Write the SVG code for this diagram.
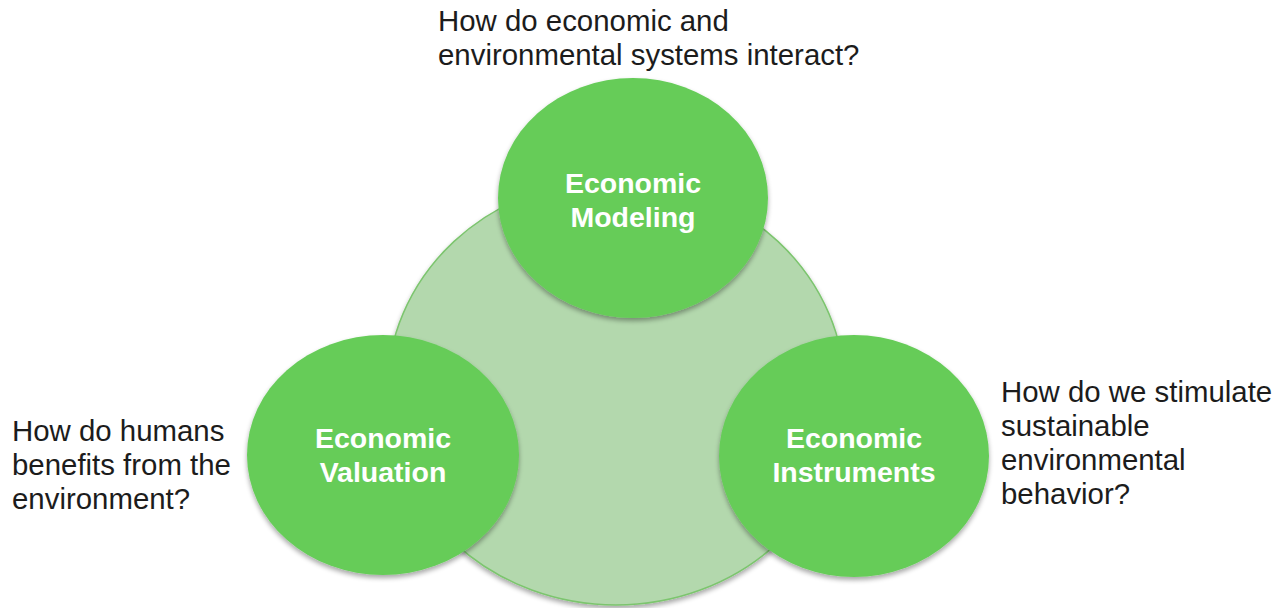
<svg xmlns="http://www.w3.org/2000/svg" width="1274" height="608" viewBox="0 0 1274 608">
  <style>
    .question { font-family: "Liberation Sans", Arial, sans-serif; font-size: 29.4px; fill: #1c1c1c; }
    .label { font-family: "Liberation Sans", Arial, sans-serif; font-size: 28.5px; font-weight: bold; fill: #ffffff; text-anchor: middle; }
    .topic { fill: #66cc59; filter: url(#shadow); }
    .core { fill: #b3d8ad; stroke: #7cc56e; stroke-width: 1.5; filter: url(#shadow); }
  </style>
  <defs>
    <filter id="shadow" x="-10%" y="-10%" width="120%" height="125%">
      <feGaussianBlur in="SourceAlpha" stdDeviation="2.5"/>
      <feOffset dx="0" dy="3" result="blur"/>
      <feComponentTransfer><feFuncA type="linear" slope="0.35"/></feComponentTransfer>
      <feMerge><feMergeNode/><feMergeNode in="SourceGraphic"/></feMerge>
    </filter>
  </defs>
  <rect width="1274" height="608" fill="#ffffff"/>

  <!-- shared background disc -->
  <g id="core">
    <ellipse class="core" cx="616" cy="392" rx="229" ry="213"/>
  </g>

  <g id="economic-modeling">
    <ellipse class="topic" cx="633" cy="198" rx="135" ry="120"/>
    <text class="label" x="633" y="193">Economic</text>
    <text class="label" x="633" y="227">Modeling</text>
  </g>

  <g id="economic-valuation">
    <ellipse class="topic" cx="383" cy="455" rx="136" ry="120"/>
    <text class="label" x="383" y="448">Economic</text>
    <text class="label" x="383" y="482">Valuation</text>
  </g>

  <g id="economic-instruments">
    <ellipse class="topic" cx="854" cy="456" rx="135" ry="121"/>
    <text class="label" x="854" y="448">Economic</text>
    <text class="label" x="854" y="482">Instruments</text>
  </g>

  <g id="connectors"></g>

  <g id="question-modeling">
    <text class="question" x="438" y="31">How do economic and</text>
    <text class="question" x="438" y="65">environmental systems interact?</text>
  </g>

  <g id="question-valuation">
    <text class="question" x="12" y="441">How do humans</text>
    <text class="question" x="12" y="475">benefits from the</text>
    <text class="question" x="12" y="509">environment?</text>
  </g>

  <g id="question-instruments">
    <text class="question" x="1001" y="402">How do we stimulate</text>
    <text class="question" x="1001" y="436">sustainable</text>
    <text class="question" x="1001" y="470">environmental</text>
    <text class="question" x="1001" y="504">behavior?</text>
  </g>
</svg>
